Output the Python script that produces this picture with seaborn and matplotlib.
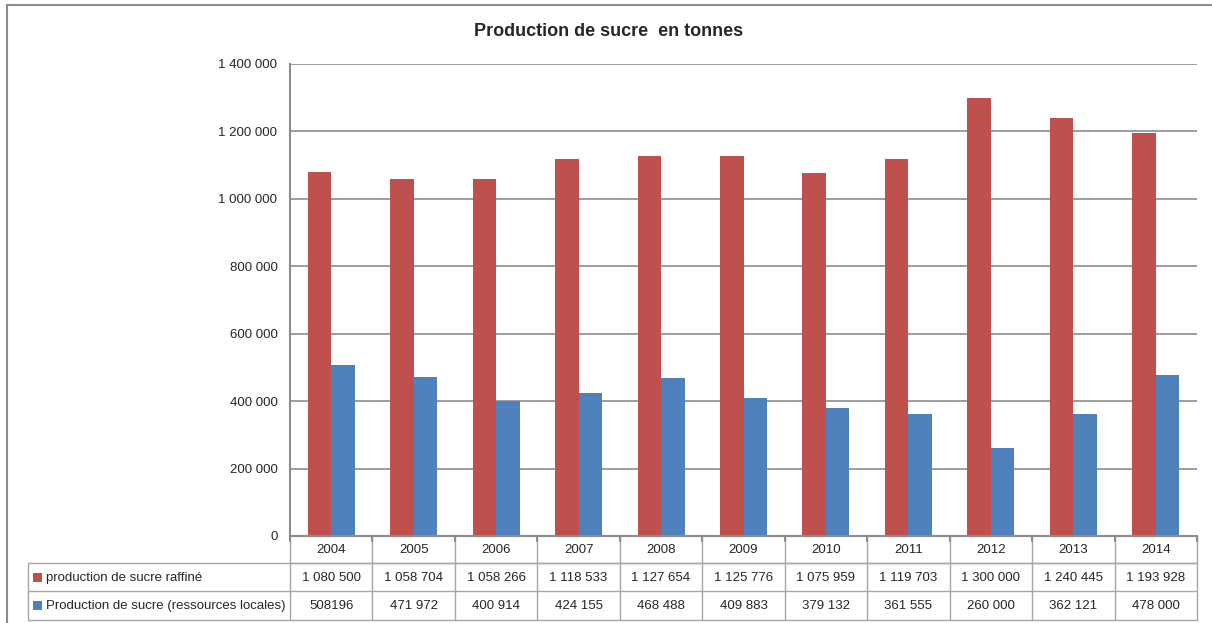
import matplotlib
matplotlib.use("Agg")
import matplotlib.pyplot as plt
import matplotlib.transforms as mtransforms
from matplotlib.patches import Rectangle
import seaborn as sns
import pandas as pd

years = ["2004", "2005", "2006", "2007", "2008", "2009", "2010", "2011", "2012", "2013", "2014"]
raffine = [1080500, 1058704, 1058266, 1118533, 1127654, 1125776, 1075959, 1119703, 1300000, 1240445, 1193928]
locales = [508196, 471972, 400914, 424155, 468488, 409883, 379132, 361555, 260000, 362121, 478000]
series_names = ["production de sucre raffiné", "Production de sucre (ressources locales)"]
raffine_labels = ["1 080 500", "1 058 704", "1 058 266", "1 118 533", "1 127 654", "1 125 776",
                  "1 075 959", "1 119 703", "1 300 000", "1 240 445", "1 193 928"]
locales_labels = ["508196", "471 972", "400 914", "424 155", "468 488", "409 883",
                  "379 132", "361 555", "260 000", "362 121", "478 000"]
yticks = [0, 200000, 400000, 600000, 800000, 1000000, 1200000, 1400000]
ytick_labels = ["0", "200 000", "400 000", "600 000", "800 000", "1 000 000", "1 200 000", "1 400 000"]
title = "Production de sucre  en tonnes"
colors = ["#C0504D", "#4F81BD"]

sns.set_style("white")
plt.rcParams["font.family"] = ["Liberation Sans Narrow", "Liberation Sans", "DejaVu Sans"]

df = pd.DataFrame({
    "year": years * 2,
    "value": raffine + locales,
    "serie": [series_names[0]] * len(years) + [series_names[1]] * len(years),
})

W, H = 1212, 623
fig = plt.figure(figsize=(W / 100, H / 100), dpi=100)
ax = fig.add_axes([290 / W, 1 - 536 / H, (1197 - 290) / W, (536 - 64) / H])

sns.barplot(data=df, x="year", y="value", hue="serie", order=years, hue_order=series_names,
            palette=colors, width=0.57, ax=ax, legend=False, edgecolor="none", saturation=1)

ax.set_xlim(-0.5, len(years) - 0.5)
ax.set_ylim(0, 1400000)
ax.set_yticks(yticks)
ax.set_yticklabels(ytick_labels, fontsize=9.5)
ax.set_xticks([])
ax.set_xlabel("")
ax.set_ylabel("")
ax.grid(axis="y", color="#8c8c8c", linewidth=1.2)
ax.set_axisbelow(True)
for s in ["top", "right"]:
    ax.spines[s].set_visible(False)
for s in ["left", "bottom"]:
    ax.spines[s].set_color("#8c8c8c")
    ax.spines[s].set_linewidth(1.5)
ax.tick_params(axis="y", direction="out", length=5, color="#8c8c8c", pad=4)

# Title
fig.text(609 / W, 1 - 32 / H, title, ha="center", va="center", fontsize=13, fontweight="bold")

# Outer frame (top and left)
fig.add_artist(plt.Line2D([7 / W, 1.0], [1 - 5 / H, 1 - 5 / H], transform=fig.transFigure, color="#8c8c8c", lw=1.5))
fig.add_artist(plt.Line2D([7 / W, 7 / W], [1 - 5 / H, 0], transform=fig.transFigure, color="#8c8c8c", lw=1.5))

# Data table
blend = mtransforms.blended_transform_factory(ax.transData, fig.transFigure)
tcol = "#a6a6a6"
y_rows = [536, 563, 591, 620]
fy = lambda p: 1 - p / H
# horizontal lines
fig.add_artist(plt.Line2D([290 / W, 1197 / W], [fy(563), fy(563)], transform=fig.transFigure, color=tcol, lw=1))
fig.add_artist(plt.Line2D([28 / W, 1197 / W], [fy(563), fy(563)], transform=fig.transFigure, color=tcol, lw=1))
fig.add_artist(plt.Line2D([28 / W, 1197 / W], [fy(591), fy(591)], transform=fig.transFigure, color=tcol, lw=1))
fig.add_artist(plt.Line2D([28 / W, 1197 / W], [fy(620), fy(620)], transform=fig.transFigure, color=tcol, lw=1))
fig.add_artist(plt.Line2D([28 / W, 28 / W], [fy(563), fy(620)], transform=fig.transFigure, color=tcol, lw=1))
# vertical category lines
for i in range(len(years) + 1):
    x = i - 0.5
    top = 536 if 0 < i < len(years) or i == 0 else 536
    ax.add_artist(plt.Line2D([x, x], [fy(536), fy(620)], transform=blend, color=tcol, lw=1, clip_on=False))
# tick stubs on axis
for i in range(len(years) + 1):
    x = i - 0.5
    ax.add_artist(plt.Line2D([x, x], [fy(536), fy(541)], transform=blend, color="#8c8c8c", lw=1.5, clip_on=False))

for i, yr in enumerate(years):
    ax.text(i, fy(550), yr, transform=blend, ha="center", va="center", fontsize=9.5, clip_on=False)
    ax.text(i, fy(578), raffine_labels[i], transform=blend, ha="center", va="center", fontsize=9.5, clip_on=False)
    ax.text(i, fy(606), locales_labels[i], transform=blend, ha="center", va="center", fontsize=9.5, clip_on=False)

# legend keys in table
for row_y, col, name in [(578, colors[0], series_names[0]), (606, colors[1], series_names[1])]:
    fig.add_artist(Rectangle((33 / W, fy(row_y + 4)), 9 / W, 9 / H, transform=fig.transFigure,
                             facecolor=col, edgecolor="none"))
    fig.text(46 / W, fy(row_y), name, ha="left", va="center", fontsize=9.5)

fig.savefig("out.png", dpi=100)
